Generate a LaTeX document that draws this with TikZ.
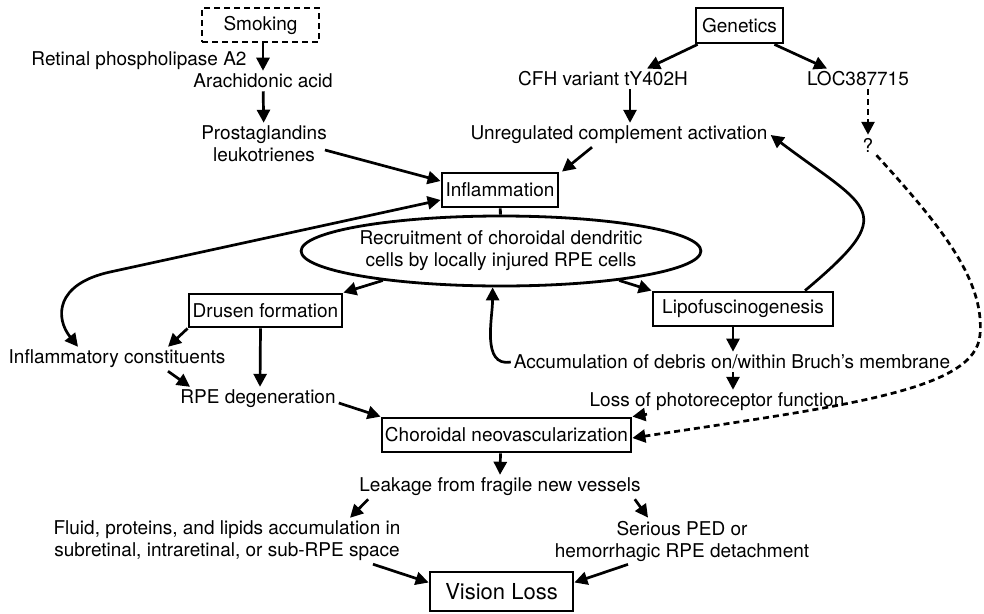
\documentclass[tikz,border=0pt]{standalone}
\usepackage{fontspec}
\setmainfont{TeX Gyre Heros}
\usetikzlibrary{arrows.meta,shapes.geometric}

\begin{document}
\begin{tikzpicture}[x=1pt, y=-1pt, font=\fontsize{19}{22}\selectfont,
    main/.style = {draw, rectangle, line width=2.8pt, inner sep=0pt},
    txt/.style = {inner sep=3pt, align=center},
    arr/.style = {-{Triangle[length=13pt,width=13pt]}, line width=2.7pt},
    dbl/.style = {{Triangle[length=13pt,width=13pt]}-{Triangle[length=13pt,width=13pt]}, line width=2.7pt},
    dsh/.style = {dash pattern=on 6pt off 4pt}]
\useasboundingbox (0,0) rectangle (984,613);

            \node[main, dsh, minimum width=117pt, minimum height=34pt] (1) at (260.5,25) {Smoking};
            \node[txt] (2) at (139,61) {Retinal phospholipase A2};
            \node[txt] (3) at (263,81) {Arachidonic acid};
            \node[txt] (4) at (264,144) {Prostaglandins\\leukotrienes};
            \node[main, minimum width=87pt, minimum height=35pt] (5) at (739.5,25.5) {Genetics};
            \node[txt] (6) at (603,79) {CFH variant tY402H};
            \node[txt] (7) at (858,79) {LOC387715};
            \node[txt] (8) at (619,135) {Unregulated complement activation};
            \node[txt] (9) at (868,145) {?};
            \node[main, minimum width=116pt, minimum height=34pt] (10) at (500,190) {Inflammation};
            \node[main, ellipse, minimum width=342pt, minimum height=70pt, align=center] (11) at (501,251) {Recruitment of choroidal dendritic\\cells by locally injured RPE cells};
            \node[main, minimum width=153pt, minimum height=33pt] (12) at (265.5,310.5) {Drusen formation};
            \node[main, minimum width=180pt, minimum height=34pt] (13) at (743,309) {Lipofuscinogenesis};
            \node[txt] (14) at (117,359) {Inflammatory constituents};
            \node[txt] (15) at (258,399) {RPE degeneration};
            \node[txt] (16) at (732,362) {Accumulation of debris on/within Bruch’s membrane};
            \node[txt] (17) at (717,402) {Loss of photoreceptor function};
            \node[main, minimum width=249pt, minimum height=34pt] (18) at (506.5,435) {Choroidal neovascularization};
            \node[txt] (19) at (500,487) {Leakage from fragile new vessels};
            \node[txt] (20) at (227,541) {Fluid, proteins, and lipids accumulation in\\subretinal, intraretinal, or sub-RPE space};
            \node[txt] (21) at (682,541) {Serious PED or\\hemorrhagic RPE detachment};
            \node[main, minimum width=143pt, minimum height=39pt, font=\fontsize{22}{26}\selectfont] (22) at (501.5,591.5) {Vision Loss};

            % smoking branch
            \draw[arr] (1.south -| 3.north) -- (3.north);
            \draw[arr] (3) -- (4);
            \draw[arr] ([xshift=-5pt,yshift=-6pt]4.east) -- ([yshift=9pt]10.west);

            % genetics branch
            \draw[arr] ([xshift=3pt]5.south west) -- ([xshift=44pt]6.north);
            \draw[arr] ([xshift=-10pt]5.south east) -- ([xshift=-31pt]7.north);
            \draw[arr] ([xshift=27pt]6.south) -- ([xshift=11pt]8.north);
            \draw[arr, dsh] ([xshift=10pt]7.south) -- (9.north);
            \draw[arr] ([xshift=-27pt]8.south) -- ([xshift=62pt]10.north);

            \draw[line width=2.8pt] (10) -- (11);
            \draw[arr] (11.194) -- (12.north east);
            \draw[arr] (11.346) -- (13.north west);
            \draw[dbl] ([yshift=-10pt]10.west) -- (110,272) .. controls (55,284) and (55,318) .. ([xshift=-39pt]14.north);

            \draw[arr] (12.south west) -- ([xshift=51pt]14.north);
            \draw[arr] ([xshift=-5pt]12.south) -- ([xshift=2pt]15.north);
            \draw[arr] ([xshift=51pt]14.south) -- ([xshift=-68pt]15.north);
            \draw[arr] ([yshift=-4pt]15.east) -- (18.north west);

            \draw[arr] (16.west) to[out=190, in=270] (11.257);
            \draw[arr] ([xshift=-10pt]13.south) -- ([xshift=1pt]16.north);
            \draw[arr] ([xshift=62pt]13.north) to[out=40, in=-37, looseness=2] (8.east);
            \draw[arr] ([xshift=1pt]16.south) -- ([xshift=16pt]17.north);
            \draw[arr] ([xshift=-70pt]17.south) -- (18.north east);
            \draw[arr, dsh] (9.south east) .. controls (940,225) and (985,280) .. (980,335)
                .. controls (975,390) and (850,405) .. ([yshift=-3pt]18.east);

            % towards vision loss
            \draw[arr] ([xshift=-6pt]18.south) -- (19.north);
            \draw[arr] ([xshift=12pt]19.south west) -- ([xshift=123pt]20.north);
            \draw[arr] ([xshift=-9pt]19.south east) -- ([xshift=-34pt]21.north);
            \draw[arr] ([xshift=146pt]20.south) -- ([yshift=9pt]22.west);
            \draw[arr] ([xshift=-54pt]21.south) -- ([yshift=9pt]22.east);

\end{tikzpicture}
\end{document}
